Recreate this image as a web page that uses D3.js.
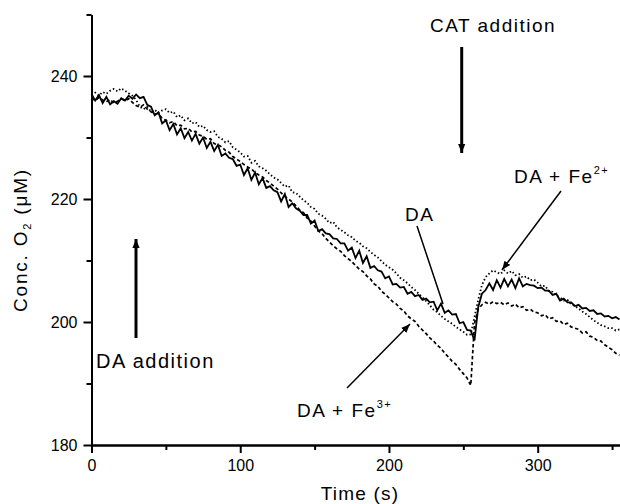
<!DOCTYPE html>
<html>
<head>
<meta charset="utf-8">
<script src="https://cdn.jsdelivr.net/npm/d3@7"></script>
<style>
  body { margin: 0; background: #fff; }
  svg text { font-family: "Liberation Sans", Arial, sans-serif; fill: #000; }
</style>
</head>
<body>
<div id="chart"></div>
<script>
  // sampling interval of the recorded traces (s)
  var sampleStep = 2.5;

  // O2 concentration (uM), one value per sample, t = 0 .. 355 s
  var daTrace = [
    237.1, 236.0, 236.9, 235.6, 236.6, 235.4, 235.9, 235.5, 236.4, 236.0,
    236.8, 236.3, 237.0, 236.4, 236.6, 235.3, 235.0, 233.6, 234.1, 232.3,
    232.8, 231.2, 232.2, 230.5, 231.5, 229.9, 230.9, 229.5, 230.6, 229.0,
    230.0, 228.3, 229.3, 227.8, 228.8, 227.0, 227.4, 226.7, 226.5, 225.4,
    225.6, 223.9, 225.0, 223.1, 224.3, 222.4, 223.4, 221.8, 222.1, 221.4,
    221.1, 219.6, 220.8, 218.7, 219.3, 218.5, 218.1, 217.4, 217.4, 216.0,
    216.5, 214.8, 215.1, 214.4, 214.3, 213.6, 213.5, 212.8, 212.8, 211.6,
    212.1, 210.4, 211.6, 209.6, 210.7, 208.8, 209.1, 208.4, 208.2, 207.1,
    207.4, 206.1, 206.2, 205.6, 205.7, 204.6, 204.9, 204.2, 204.4, 203.6,
    203.8, 203.2, 203.3, 201.9, 203.0, 201.5, 201.9, 201.2, 201.3, 199.8,
    200.0, 198.7, 198.6, 197.0, 202.4, 204.6, 205.2, 206.3, 205.2, 206.8,
    205.6, 207.0, 205.8, 206.9, 205.5, 207.1, 205.8, 206.2, 206.0, 205.9,
    205.5, 205.6, 205.1, 205.1, 204.4, 204.6, 203.5, 203.8, 203.2, 203.2,
    202.6, 202.8, 202.2, 202.3, 201.8, 201.9, 201.3, 201.4, 200.9, 201.0,
    200.6, 200.8, 200.4
  ];

  var daFe2Trace = [
    236.9, 237.3, 236.8, 237.4, 237.1, 237.6, 237.9, 237.5, 238.0, 237.6,
    237.2, 236.8, 236.1, 235.0, 234.6, 235.0, 234.2, 234.5, 234.0, 234.4,
    234.6, 234.0, 234.2, 233.3, 233.6, 232.8, 233.1, 232.3, 232.5, 231.7,
    231.9, 231.2, 230.9, 231.0, 230.1, 229.8, 229.2, 229.4, 228.4, 228.0,
    227.6, 226.9, 227.0, 225.9, 226.2, 225.3, 225.0, 224.6, 224.0, 223.5,
    223.2, 222.6, 222.0, 222.2, 221.1, 221.0, 220.4, 219.8, 219.4, 218.7,
    218.4, 217.6, 217.3, 216.8, 216.1, 216.3, 215.4, 215.0, 214.6, 214.1,
    213.8, 213.2, 212.9, 212.3, 212.0, 211.4, 210.9, 210.5, 209.9, 209.3,
    208.9, 208.5, 207.9, 207.2, 206.8, 206.3, 205.7, 205.2, 204.6, 204.0,
    203.4, 202.7, 202.0, 201.6, 201.0, 200.5, 200.1, 199.7, 199.2, 198.8,
    198.4, 197.9, 198.0, 200.8, 203.6, 206.0, 207.3, 207.9, 208.4, 208.1,
    207.8, 208.4, 207.9, 208.3, 207.6, 207.8, 207.2, 207.4, 206.8, 206.9,
    206.4, 205.8, 205.9, 205.0, 204.9, 204.3, 204.0, 203.5, 203.6, 202.9,
    202.6, 202.2, 201.7, 201.3, 200.8, 200.3, 199.9, 199.5, 199.3, 199.0,
    199.0, 198.6, 198.8
  ];

  var daFe3Trace = [
    236.4, 236.0, 236.5, 236.1, 235.8, 236.2, 235.6, 235.9, 236.3, 236.0,
    236.3, 235.7, 235.2, 234.9, 235.3, 234.6, 234.2, 233.8, 233.9, 233.1,
    232.8, 232.4, 232.6, 231.9, 232.0, 231.4, 231.5, 230.9, 231.0, 230.4,
    230.2, 229.7, 229.8, 229.0, 228.8, 228.5, 227.9, 227.6, 226.9, 226.5,
    226.1, 225.6, 225.2, 224.9, 224.3, 223.9, 223.6, 223.0, 222.6, 222.1,
    221.6, 221.0, 220.4, 220.0, 219.5, 218.9, 218.2, 217.8, 216.9, 216.4,
    215.6, 214.8, 214.4, 213.6, 213.0, 212.4, 211.9, 211.5, 210.8, 210.3,
    209.8, 209.2, 208.6, 208.2, 207.5, 207.0, 206.2, 205.8, 205.0, 204.5,
    203.9, 203.3, 202.9, 202.2, 201.8, 201.0, 200.5, 200.1, 199.3, 198.7,
    198.1, 197.4, 196.9, 196.2, 195.7, 194.9, 194.3, 193.6, 193.1, 192.3,
    191.6, 190.9, 189.7, 199.8, 202.1, 202.8, 203.2, 202.9, 203.3, 203.0,
    203.2, 202.8, 203.1, 202.6, 202.9, 202.3, 202.5, 201.9, 202.1, 201.6,
    201.5, 201.0, 201.2, 200.5, 200.7, 200.1, 200.2, 199.6, 199.8, 199.2,
    199.0, 198.8, 198.2, 198.4, 197.7, 197.5, 197.0, 196.9, 196.3, 195.9,
    195.5, 194.9, 194.6
  ];

  var xMajorTicks = [0, 100, 200, 300];
  var xMinorTicks = [50, 150, 250, 350];
  var yMajorTicks = [180, 200, 220, 240];
  var yMinorTicks = [190, 210, 230, 250];

  var width = 620, height = 504;

  var svg = d3.select('#chart').append('svg')
    .attr('width', width)
    .attr('height', height);

  var x = d3.scaleLinear().domain([0, 355]).range([91.5, 619.5]);
  var y = d3.scaleLinear().domain([180, 250]).range([445, 14.5]);

  // traces
  var line = d3.line()
    .x(function (d, i) { return x(i * sampleStep); })
    .y(function (d) { return y(d); });

  var traces = [
    { values: daFe3Trace, dash: '3.5,2.5', w: 1.7 },
    { values: daFe2Trace, dash: '1.5,2.3', w: 1.8 },
    { values: daTrace, dash: null, w: 1.8 }
  ];

  svg.append('g').selectAll('path')
    .data(traces)
    .enter().append('path')
    .attr('d', function (d) { return line(d.values); })
    .attr('fill', 'none')
    .attr('stroke', '#000')
    .attr('stroke-width', function (d) { return d.w; })
    .attr('stroke-dasharray', function (d) { return d.dash; });

  // axes
  function styleAxis(g) {
    g.selectAll('path, line').attr('stroke', '#000').attr('stroke-width', 2);
    g.selectAll('text').attr('font-size', 16).attr('font-family', '"Liberation Sans", Arial, sans-serif');
  }

  svg.append('g')
    .attr('transform', 'translate(0,445)')
    .call(d3.axisBottom(x).tickValues(xMinorTicks).tickSize(5).tickSizeOuter(0).tickFormat(''))
    .call(styleAxis);
  svg.append('g')
    .attr('transform', 'translate(0,445)')
    .call(d3.axisBottom(x).tickValues(xMajorTicks).tickSize(8).tickSizeOuter(0).tickPadding(7))
    .call(styleAxis);

  svg.append('g')
    .attr('transform', 'translate(91.5,0)')
    .call(d3.axisLeft(y).tickValues(yMinorTicks).tickSize(5).tickSizeOuter(0).tickFormat(''))
    .call(styleAxis);
  svg.append('g')
    .attr('transform', 'translate(91.5,0)')
    .call(d3.axisLeft(y).tickValues(yMajorTicks).tickSize(8).tickSizeOuter(0).tickPadding(6))
    .call(styleAxis);

  // axis titles
  svg.append('text')
    .attr('x', 360).attr('y', 500)
    .attr('text-anchor', 'middle')
    .attr('font-size', 19)
    .attr('letter-spacing', 1.2)
    .text('Time (s)');

  var yTitle = svg.append('text')
    .attr('transform', 'translate(27,240) rotate(-90)')
    .attr('text-anchor', 'middle')
    .attr('font-size', 19)
    .attr('letter-spacing', 1.8);
  yTitle.append('tspan').text('Conc. O');
  yTitle.append('tspan').attr('font-size', 11).attr('dy', 4).text('2');
  yTitle.append('tspan').attr('dy', -4).text(' (\u03bcM)');

  // annotations
  var defs = svg.append('defs');
  defs.append('marker')
    .attr('id', 'head')
    .attr('viewBox', '0 0 10 10')
    .attr('refX', 10).attr('refY', 5)
    .attr('markerWidth', 9).attr('markerHeight', 9)
    .attr('markerUnits', 'userSpaceOnUse')
    .attr('orient', 'auto')
    .append('path').attr('d', 'M0,1L10,5L0,9Z').attr('fill', '#000');

  function arrow(x1, y1, x2, y2, w, withHead) {
    svg.append('line')
      .attr('x1', x1).attr('y1', y1).attr('x2', x2).attr('y2', y2)
      .attr('stroke', '#000').attr('stroke-width', w)
      .attr('marker-end', withHead ? 'url(#head)' : null);
  }

  function label(tx, ty, main, sup, size) {
    var t = svg.append('text')
      .attr('x', tx).attr('y', ty)
      .attr('font-size', size)
      .attr('letter-spacing', 1.5);
    t.append('tspan').text(main);
    if (sup) t.append('tspan').attr('font-size', 11).attr('dy', -9).text(sup);
  }

  label(430, 32, 'CAT addition', null, 19);
  arrow(461.7, 47, 461.7, 153, 3, true);

  label(96, 368, 'DA addition', null, 20);
  arrow(136, 338, 136, 239, 3, true);

  label(405, 221, 'DA', null, 19);
  arrow(417, 226, 443, 304, 1.5, false);

  label(514, 183, 'DA + Fe', '2+', 19);
  arrow(561, 191, 502, 270, 1.5, true);

  label(297, 417, 'DA + Fe', '3+', 19);
  arrow(347, 388, 410, 324, 1.5, true);
</script>
</body>
</html>
